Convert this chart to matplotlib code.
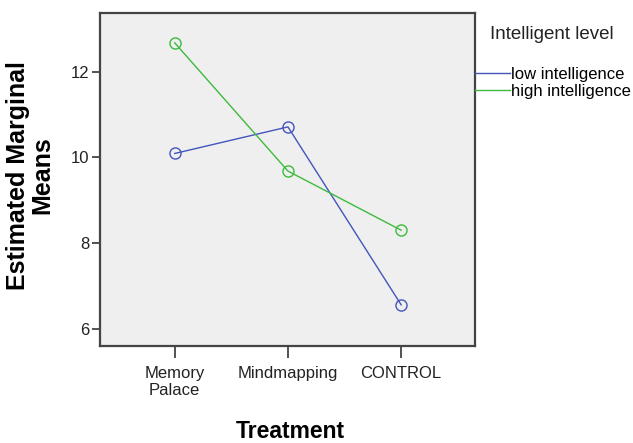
import matplotlib.pyplot as plt
from matplotlib.lines import Line2D

# Estimated marginal means by treatment and intelligence level
treatments = ["Memory\nPalace", "Mindmapping", "CONTROL"]
low_intel = [10.09, 10.71, 6.56]
high_intel = [12.67, 9.68, 8.30]
ytick_vals = [6, 8, 10, 12]
series_names = ["low intelligence", "high intelligence"]

blue = "#4455bb"
green = "#3dbb3d"

plt.rcParams['font.family'] = ['Liberation Sans', 'DejaVu Sans']

fig = plt.figure(figsize=(6.33, 4.43), dpi=100)
ax = fig.add_axes([0.158, 0.219, 0.592, 0.752])
ax.set_facecolor("#efefef")

x = list(range(len(treatments)))
ax.plot(x, low_intel, color=blue, lw=1, marker="o", ms=8,
        mfc="none", mec=blue, mew=1)
ax.plot(x, high_intel, color=green, lw=1, marker="o", ms=8,
        mfc="none", mec=green, mew=1)

ax.set_xlim(-0.66, 2.65)
ax.set_ylim(5.6, 13.37)
ax.set_xticks(x)
ax.set_xticklabels(treatments, fontsize=12, color="#222222", linespacing=1.2)
ax.set_yticks(ytick_vals)
ax.tick_params(axis="y", length=6, width=1.3, color="#444444", labelsize=12,
               labelcolor="#222222", pad=1.5)
ax.tick_params(axis="x", length=8.6, width=1.3, color="#444444", pad=5.5)
for s in ax.spines.values():
    s.set_color("#444444")
    s.set_linewidth(1.6)

ax.set_xlabel("Treatment", fontsize=16.5, fontweight="bold")
ax.xaxis.set_label_coords(0.507, -0.256)
ax.xaxis.label.set_va("center")
ax.set_ylabel("Estimated Marginal\nMeans", fontsize=18, fontweight="bold", linespacing=1.0)
ax.yaxis.set_label_coords(-0.187, 0.513)
ax.yaxis.label.set_va("center")

handles = [Line2D([], [], color=blue, lw=1), Line2D([], [], color=green, lw=1)]
ax.legend(handles, series_names, loc="center left", bbox_to_anchor=(1.0, 0.79),
          frameon=False, fontsize=12, handlelength=2.1, handletextpad=0.1,
          borderaxespad=0, borderpad=0, labelspacing=0.15)
fig.text(0.774, 0.921, "Intelligent level", fontsize=13.5, va="center", ha="left",
         color="#222222")

fig.savefig("out.png", dpi=100)
